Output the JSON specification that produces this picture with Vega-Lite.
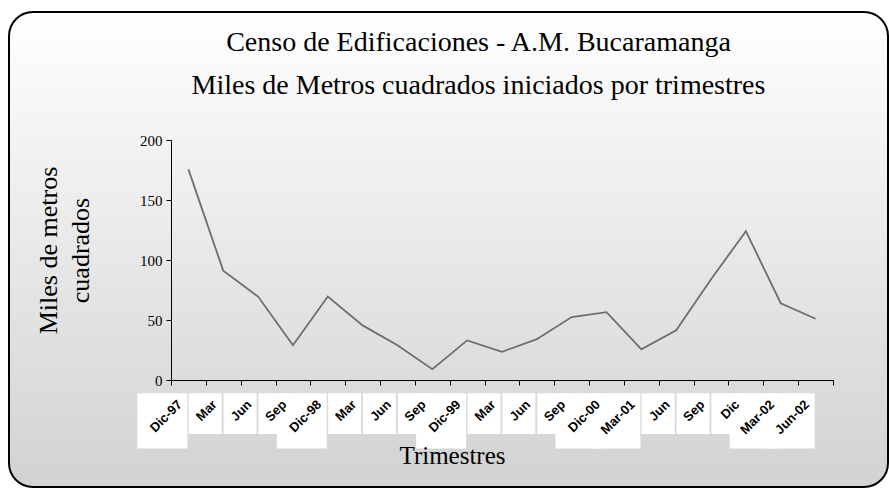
{
  "$schema": "https://vega.github.io/schema/vega-lite/v6.json",
  "width": 879,
  "height": 475,
  "autosize": {"type": "none"},
  "padding": {"left": 9, "top": 12, "right": 1, "bottom": 1},
  "background": "#ffffff",
  "title": {
    "text": ["Censo de Edificaciones - A.M. Bucaramanga", "Miles de Metros cuadrados iniciados por trimestres"],
    "font": "Liberation Serif",
    "fontSize": 28,
    "fontWeight": "normal",
    "color": "#000000",
    "lineHeight": 43,
    "anchor": "middle",
    "frame": "group",
    "baseline": "top",
    "offset": -88,
    "dx": 30
  },
  "data": {
    "values": [
      {"periodo": "Dic-97", "valor": 175.5},
      {"periodo": "Mar-98", "valor": 91},
      {"periodo": "Jun-98", "valor": 69.5},
      {"periodo": "Sep-98", "valor": 29},
      {"periodo": "Dic-98", "valor": 69.5},
      {"periodo": "Mar-99", "valor": 45.5},
      {"periodo": "Jun-99", "valor": 29},
      {"periodo": "Sep-99", "valor": 9},
      {"periodo": "Dic-99", "valor": 33},
      {"periodo": "Mar-00", "valor": 23.5},
      {"periodo": "Jun-00", "valor": 34},
      {"periodo": "Sep-00", "valor": 52.5},
      {"periodo": "Dic-00", "valor": 56.5},
      {"periodo": "Mar-01", "valor": 25.5},
      {"periodo": "Jun-01", "valor": 41.5},
      {"periodo": "Sep-01", "valor": 84},
      {"periodo": "Dic-01", "valor": 124},
      {"periodo": "Mar-02", "valor": 64},
      {"periodo": "Jun-02", "valor": 51}
    ]
  },
  "encoding": {
    "x": {
      "field": "periodo",
      "type": "ordinal",
      "sort": null,
      "scale": {
        "type": "band",
        "domain": ["Dic-97", "Mar-98", "Jun-98", "Sep-98", "Dic-98", "Mar-99", "Jun-99", "Sep-99", "Dic-99", "Mar-00", "Jun-00", "Sep-00", "Dic-00", "Mar-01", "Jun-01", "Sep-01", "Dic-01", "Mar-02", "Jun-02"],
        "range": [162, 824],
        "paddingInner": 0,
        "paddingOuter": 0
      },
      "axis": {
        "title": "Trimestres",
        "titleFont": "Liberation Serif",
        "titleFontSize": 25,
        "titleFontWeight": "normal",
        "titleColor": "#000000",
        "titleX": 443,
        "titleY": 83,
        "titleAlign": "center",
        "titleBaseline": "alphabetic",
        "labelAngle": -45,
        "labelAlign": "right",
        "labelBaseline": "middle",
        "labelFont": "Liberation Sans",
        "labelFontSize": 13,
        "labelFontWeight": "bold",
        "labelColor": "#000000",
        "labelPadding": 17,
        "labelOffset": -9,
        "labelOverlap": false,
        "labelExpr": "isValid(datum.value) ? (indexof(['Dic-97','Dic-98','Dic-99','Dic-00','Mar-01','Mar-02','Jun-02'], datum.value) >= 0 ? datum.value : slice(datum.value, 0, 3)) : ''",
        "tickBand": "extent",
        "tickSize": 5,
        "tickColor": "#000000",
        "domainColor": "#000000",
        "grid": false,
        "offset": -107,
        "zindex": 1
      }
    }
  },
  "layer": [
    {
      "transform": [{"filter": "indexof(['Dic-97','Dic-98','Dic-99','Dic-00','Mar-01','Mar-02','Jun-02'], datum.periodo) >= 0"}],
      "mark": {"type": "bar", "width": 50, "xOffset": -26, "color": "#ffffff"},
      "encoding": {
        "y": {"datum": -11, "type": "quantitative"},
        "y2": {"datum": -57}
      }
    },
    {
      "transform": [{"filter": "indexof(['Dic-97','Dic-98','Dic-99','Dic-00','Mar-01','Mar-02','Jun-02'], datum.periodo) < 0"}],
      "mark": {"type": "bar", "width": 33, "xOffset": -18, "color": "#ffffff"},
      "encoding": {
        "y": {"datum": -11, "type": "quantitative"},
        "y2": {"datum": -45}
      }
    },
    {
      "mark": {"type": "line", "color": "#6e6e6e", "strokeWidth": 1.8},
      "encoding": {
        "y": {
          "field": "valor",
          "type": "quantitative",
          "scale": {"domain": [0, 200], "range": [368, 128]},
          "axis": {
            "title": ["Miles de metros", "cuadrados"],
            "titleFont": "Liberation Serif",
            "titleFontSize": 26,
            "titleFontWeight": "normal",
            "titleColor": "#000000",
            "titleX": -123,
            "titleY": 238,
            "titleAngle": -90,
            "titleAlign": "center",
            "titleBaseline": "middle",
            "titleLineHeight": 32,
            "values": [0, 50, 100, 150, 200],
            "labelFont": "Liberation Serif",
            "labelFontSize": 15,
            "labelColor": "#000000",
            "labelPadding": 4,
            "tickSize": 5,
            "tickColor": "#000000",
            "domainColor": "#000000",
            "grid": false,
            "offset": -162
          }
        }
      }
    }
  ],
  "config": {
    "view": {
      "fill": {
        "gradient": "linear",
        "x1": 0, "y1": 0, "x2": 0, "y2": 1,
        "stops": [
          {"offset": 0, "color": "#ffffff"},
          {"offset": 1, "color": "#d2d2d2"}
        ]
      },
      "stroke": "#000000",
      "strokeWidth": 2,
      "cornerRadius": 24
    }
  }
}
